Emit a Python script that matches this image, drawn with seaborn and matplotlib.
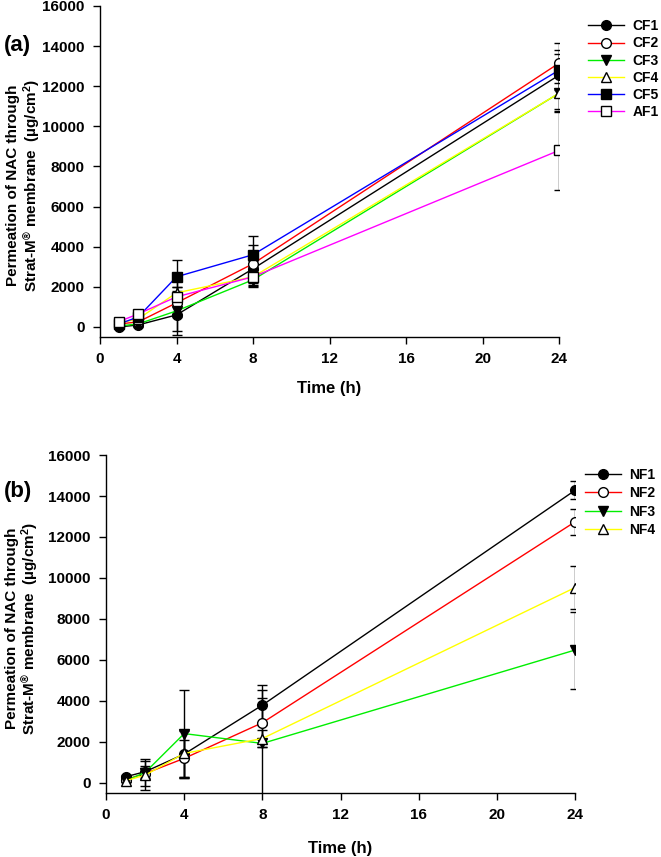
"""
Permeation of NAC through Strat-M membrane, panels (a) and (b)
"""

import numpy as np
import pandas as pd
import matplotlib
matplotlib.use('Agg')
import matplotlib.pyplot as plt
import seaborn as sns

# Sampling times (h)
time_h = [1, 2, 4, 8, 24]

# Panel (a): mean and sd
cf_names = ['CF1', 'CF2', 'CF3', 'CF4', 'CF5', 'AF1']
cf1 = [0, 100, 600, 2900, 12550]
cf2 = [150, 250, 1200, 3150, 13150]
cf3 = [50, 150, 800, 2350, 11650]
cf4 = [200, 400, 1700, 2500, 11650]
cf5 = [150, 500, 2500, 3600, 12800]
af1 = [270, 650, 1500, 2500, 8800]
cf1_sd = [50, 80, 800, 400, 1050]
cf2_sd = [80, 100, 600, 950, 1000]
cf3_sd = [50, 80, 1200, 300, 950]
cf4_sd = [60, 100, 300, 400, 800]
cf5_sd = [80, 150, 850, 950, 1000]
af1_sd = [60, 100, 1000, 500, 1980]

# Panel (b): mean and sd
nf_names = ['NF1', 'NF2', 'NF3', 'NF4']
nf1 = [290, 540, 1400, 3790, 14280]
nf2 = [150, 450, 1190, 2930, 12740]
nf3 = [100, 500, 2400, 1920, 6480]
nf4 = [100, 370, 1430, 2160, 9530]
nf1_sd = [80, 300, 1150, 980, 430]
nf2_sd = [60, 250, 900, 1200, 650]
nf3_sd = [50, 650, 2150, 2600, 1880]
nf4_sd = [50, 700, 1150, 400, 1050]

plt.rcParams['font.family'] = ['Liberation Sans', 'DejaVu Sans']
plt.rcParams['font.weight'] = 'bold'
plt.rcParams['mathtext.fontset'] = 'custom'
plt.rcParams['mathtext.rm'] = 'Liberation Sans:bold'
plt.rcParams['mathtext.default'] = 'rm'

styles = {
    'CF1': ('black', 'o', 'black'), 'CF2': ('red', 'o', 'white'),
    'CF3': ('#00ee00', 'v', 'black'), 'CF4': ('#ffff00', '^', 'white'),
    'CF5': ('blue', 's', 'black'), 'AF1': ('#ff00ff', 's', 'white'),
    'NF1': ('black', 'o', 'black'), 'NF2': ('red', 'o', 'white'),
    'NF3': ('#00ee00', 'v', 'black'), 'NF4': ('#ffff00', '^', 'white'),
}


def make_df(names, means, sds):
    rows = []
    for n, m, s in zip(names, means, sds):
        for t, v, e in zip(time_h, m, s):
            rows.append({'time': t, 'value': v, 'sd': e, 'form': n})
    return pd.DataFrame(rows)


df_a = make_df(cf_names, [cf1, cf2, cf3, cf4, cf5, af1],
               [cf1_sd, cf2_sd, cf3_sd, cf4_sd, cf5_sd, af1_sd])
df_b = make_df(nf_names, [nf1, nf2, nf3, nf4],
               [nf1_sd, nf2_sd, nf3_sd, nf4_sd])

fig = plt.figure(figsize=(6.61, 8.57), dpi=100)
ax_a = fig.add_axes([0.1513, 0.6068, 0.6944, 0.3862])
ax_b = fig.add_axes([0.1604, 0.0747, 0.7096, 0.3943])


def draw_panel(ax, df, names, ylab_xy, xlab_y, legend_pos, spacing):
    for n in names:
        d = df[df['form'] == n]
        col, mk, fc = styles[n]
        ax.errorbar(d['time'], d['value'], yerr=d['sd'], fmt='none',
                    ecolor='black', elinewidth=1, capsize=3.5, capthick=1, zorder=2)
        sns.lineplot(data=d, x='time', y='value', ax=ax, color=col, lw=1,
                     marker=mk, markersize=7, markerfacecolor=fc,
                     markeredgecolor='black', markeredgewidth=1,
                     label=n, zorder=3)
    ax.set_xlim(0, 24)
    ax.set_ylim(-500, 16000)
    ax.set_xticks(range(0, 25, 4))
    ax.set_yticks(range(0, 16001, 2000))
    ax.tick_params(labelsize=11, width=1, length=5, direction='out', pad=6)
    for lab in ax.get_xticklabels() + ax.get_yticklabels():
        lab.set_fontweight('bold')
    ax.set_xlabel('Time (h)', fontsize=12, fontweight='bold')
    ax.xaxis.set_label_coords(0.5, xlab_y)
    ax.xaxis.label.set_va('center')
    ax.set_ylabel('Permeation of NAC through\nStrat-M$^{\\circledR}$ membrane  (\u00b5g/cm$^2$)',
                  fontsize=11, fontweight='bold', linespacing=1.05)
    ax.yaxis.set_label_coords(*ylab_xy)
    ax.yaxis.label.set_va('center')
    sns.despine(ax=ax)
    for sp in ['left', 'bottom']:
        ax.spines[sp].set_linewidth(1)
    ax.legend(loc='upper left', bbox_to_anchor=legend_pos, frameon=False,
              fontsize=10, handlelength=2.6, labelspacing=spacing,
              handletextpad=0.6, borderaxespad=0, borderpad=0)


draw_panel(ax_a, df_a, cf_names, (-0.165, 0.459), -0.157, (1.063, 0.96), 0.23)
draw_panel(ax_b, df_b, nf_names, (-0.178, 0.488), -0.163, (1.021, 0.962), 0.32)

fig.text(4 / 661, 1 - 45 / 857, '(a)', fontsize=16, fontweight='bold',
         ha='left', va='center')
fig.text(4 / 661, 1 - 492 / 857, '(b)', fontsize=16, fontweight='bold',
         ha='left', va='center')

plt.savefig('out.png', dpi=100)
